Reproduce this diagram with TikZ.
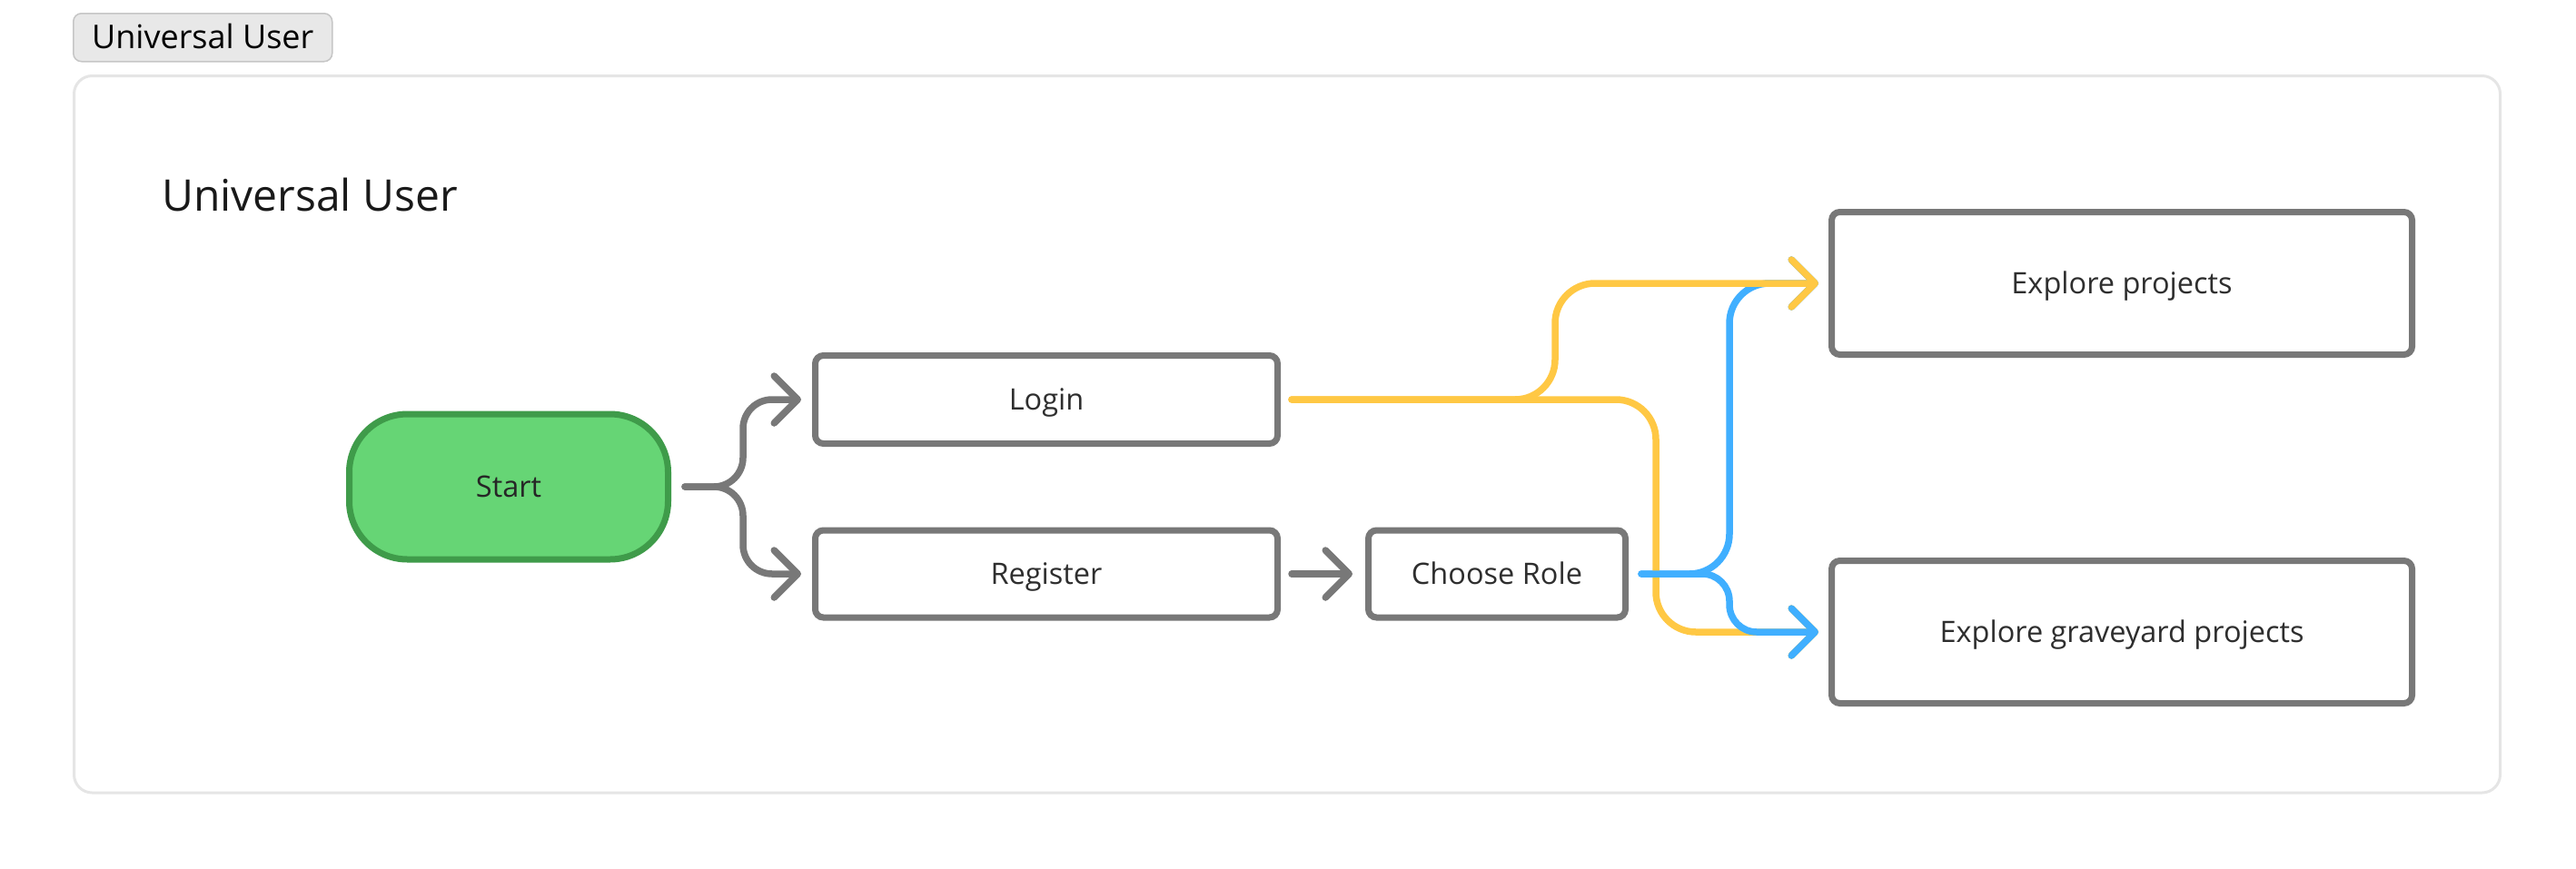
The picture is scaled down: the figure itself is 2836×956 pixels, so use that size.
\documentclass[tikz,border=0pt]{standalone}
\usepackage{fontspec}
\setmainfont{Open Sans}
\usetikzlibrary{arrows.meta}

\definecolor{linegray}{HTML}{787878}
\definecolor{flowyellow}{HTML}{FFC844}
\definecolor{flowblue}{HTML}{40AFFF}
\definecolor{startfill}{HTML}{66D575}
\definecolor{startdraw}{HTML}{3F9B4A}
\definecolor{framegray}{HTML}{E5E5E5}
\definecolor{tagfill}{HTML}{E8E8E8}
\definecolor{tagdraw}{HTML}{C6C6C6}
\definecolor{boxtext}{HTML}{2E2E2E}

\begin{document}
\begin{tikzpicture}
[x=1pt, y=-1pt, box/.style={draw=linegray, line width=7pt, rounded corners=9pt, fill=white, text=boxtext, font=\fontsize{32.5}{38}\selectfont, text height=23pt, text depth=0pt, inner sep=0pt}, start node/.style={box, draw=startdraw, fill=startfill, rounded corners=64pt, text=black!85}, flow/.style={line width=7.5pt, line cap=round, rounded corners=44pt, -{Straight Barb[length=26pt, width=52pt, round]}}, frame line/.style={draw=framegray, line width=3pt, rounded corners=20pt, fill=white}, tag/.style={draw=tagdraw, fill=tagfill, line width=1.5pt, rounded corners=9pt, font=\fontsize{36}{42}\selectfont, text height=25pt, text depth=0pt, minimum width=285pt, minimum height=53pt, inner sep=0pt}]
    \useasboundingbox (0,0) rectangle (2836,956);
    \coordinate (tagpos) at (80,14);
    \coordinate (titlepos) at (178,232);
    \coordinate (s) at (560,536);
    \coordinate (l) at (1152,440);
    \coordinate (r) at (1152,632);
    \coordinate (c) at (1648,632);
    \coordinate (e) at (2336,312);
    \coordinate (g) at (2336,696);
    \draw[frame line] (81.5,83.5) rectangle (2752.5,873);
    \node[tag, anchor=north west] (tag) at (tagpos) {Universal User};
    \node[anchor=base west, inner sep=0pt, font=\fontsize{48}{56}\selectfont, text=black!90] (title) at (titlepos) {Universal User};
    \node[start node, minimum width=351pt, minimum height=160pt] (start) at (s) {Start};
    \node[box, minimum width=509pt, minimum height=97pt] (login) at (l) {Login};
    \node[box, minimum width=509pt, minimum height=96pt] (register) at (r) {Register};
    \node[box, minimum width=283pt, minimum height=96pt] (role) at (c) {Choose Role};
    \node[box, minimum width=639pt, minimum height=157pt] (explore) at (e) {Explore projects};
    \node[box, minimum width=639pt, minimum height=157pt] (graveyard) at (g) {Explore graveyard projects};
    % start splits to login and register
    \draw[flow, linegray, rounded corners=32pt] ([xshift=15pt]start.east) -- ++(64,0) |- ([xshift=-12pt]login.west);
    \draw[flow, linegray, rounded corners=32pt] ([xshift=15pt]start.east) -- ++(64,0) |- ([xshift=-12pt]register.west);
    \draw[flow, linegray] ([xshift=12pt]register.east) -- ([xshift=-14pt]role.west);
    % role and login to the explore boxes
    \draw[flow, flowblue] ([xshift=14pt]role.east) -- ++(97,0) |- ([xshift=-11pt]explore.west);
    \draw[flow, flowyellow] ([xshift=12pt]login.east) -- ++(401,0) |- ([xshift=-11pt]graveyard.west);
    \draw[flow, flowyellow] ([xshift=12pt]login.east) -- ++(290,0) |- ([xshift=-11pt]explore.west);
    \draw[flow, flowblue, rounded corners=30pt] ([xshift=14pt]role.east) -- ++(97,0) |- ([xshift=-11pt]graveyard.west);
\end{tikzpicture}
\end{document}
